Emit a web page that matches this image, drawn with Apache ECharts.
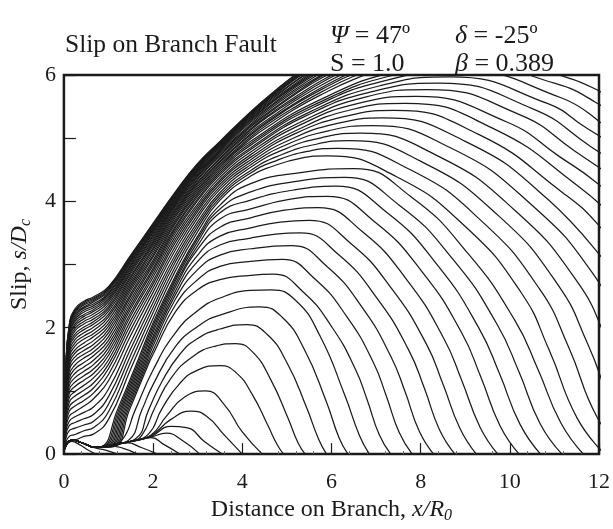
<!DOCTYPE html>
<html>
<head>
<meta charset="utf-8">
<script src="https://cdn.jsdelivr.net/npm/echarts@6/dist/echarts.min.js"></script>
<style>
html,body{margin:0;padding:0;background:#fff;}
#c{width:613px;height:529px;}
</style>
</head>
<body>
<div id="c"></div>
<script>
// ---- tick labels ----
const X_TICKS = [0, 2, 4, 6, 8, 10, 12];
const Y_TICKS = [0, 2, 4, 6];

// ---- early slip profiles (front inside the plot), [x, s] pairs ----
const EARLY_CURVES = [
  [[0,0],[0.05,0.13],[0.18,0.2],[0.35,0.15],[0.55,0.06],[0.72,0]],
  [[0,0],[0.06,0.16],[0.2,0.22],[0.4,0.18],[0.7,0.1],[0.95,0.06],[1.2,0]],
  [[0,0],[0.06,0.16],[0.2,0.22],[0.4,0.18],[0.7,0.11],[1.0,0.13],[1.3,0.1],[1.65,0]],
  [[0,0],[0.06,0.16],[0.2,0.22],[0.4,0.18],[0.7,0.11],[1.0,0.14],[1.4,0.18],[1.75,0.1],[2.1,0]],
  [[0,0],[0.06,0.16],[0.2,0.22],[0.4,0.18],[0.7,0.11],[1.0,0.14],[1.5,0.2],[1.95,0.26],[2.25,0.15],[2.6,0]],
  [[0,0],[0.06,0.16],[0.2,0.22],[0.4,0.18],[0.7,0.11],[1.0,0.14],[1.5,0.2],[1.95,0.27],[2.3,0.33],[2.65,0.22],[3.05,0]],
  [[0,0],[0.06,0.16],[0.2,0.22],[0.4,0.18],[0.7,0.11],[1.0,0.14],[1.5,0.2],[1.95,0.28],[2.4,0.44],[2.75,0.42],[3.15,0.2],[3.55,0]],
  [[0,0],[0.06,0.16],[0.2,0.22],[0.4,0.18],[0.7,0.11],[1.0,0.14],[1.5,0.2],[1.95,0.29],[2.4,0.55],[2.85,0.68],[3.2,0.6],[3.6,0.3],[4.0,0]],
  [[0,0],[0.06,0.16],[0.2,0.22],[0.4,0.18],[0.7,0.11],[1.0,0.14],[1.5,0.2],[1.95,0.3],[2.3,0.6],[2.7,0.9],[3.18,1.0],[3.6,0.78],[4.0,0.35],[4.45,0]],
  [[0,0],[0.06,0.16],[0.2,0.22],[0.4,0.18],[0.7,0.11],[1.0,0.14],[1.5,0.2],[1.9,0.32],[2.2,0.72],[2.6,1.12],[3.0,1.33],[3.5,1.4],[3.86,1.29],[4.22,0.95],[4.57,0.46],[4.79,0.14],[4.93,0]],
  [[0,0],[0.06,0.16],[0.2,0.22],[0.4,0.18],[0.7,0.11],[1.0,0.14],[1.5,0.2],[1.75,0.3],[2.05,0.75],[2.4,1.2],[2.9,1.55],[3.4,1.71],[3.85,1.75],[4.24,1.61],[4.63,1.19],[5.02,0.58],[5.25,0.18],[5.41,0]],
  [[0,0],[0.06,0.16],[0.2,0.22],[0.4,0.18],[0.7,0.11],[1.0,0.14],[1.6,0.24],[1.9,0.7],[2.2,1.15],[2.6,1.58],[3.0,1.83],[3.5,1.98],[4.1,2.05],[4.55,1.9],[5.0,1.45],[5.44,0.74],[5.71,0.24],[5.89,0]],
  [[0,0],[0.06,0.16],[0.2,0.22],[0.4,0.18],[0.7,0.11],[1.0,0.14],[1.45,0.22],[1.75,0.7],[2.0,1.1],[2.5,1.7],[3.0,2.02],[3.5,2.2],[4.4,2.33],[4.89,2.17],[5.39,1.66],[5.88,0.84],[6.17,0.26],[6.37,0]],
  [[0,0],[0.06,0.16],[0.2,0.22],[0.4,0.18],[0.7,0.11],[1.0,0.14],[1.3,0.22],[1.6,0.7],[2.0,1.33],[2.5,1.92],[3.0,2.27],[3.5,2.47],[4.19,2.59],[4.65,2.6],[5.2,2.43],[5.75,1.86],[6.3,0.93],[6.63,0.29],[6.85,0]],
  [[0,0],[0.06,0.16],[0.2,0.22],[0.4,0.18],[0.7,0.11],[1.12,0.12],[1.47,0.7],[1.87,1.38],[2.0,1.58],[2.5,2.25],[3.0,2.6],[3.5,2.76],[4.19,2.83],[4.7,2.85],[5.36,2.57],[6.02,2.0],[6.54,1.34],[6.8,0.86],[7.07,0.31],[7.33,0]],
  [[0,0],[0.06,0.16],[0.2,0.22],[0.4,0.18],[0.7,0.11],[1.09,0.12],[1.44,0.7],[1.84,1.38],[2.0,1.64],[2.5,2.36],[3.0,2.76],[3.5,2.97],[4.19,3.05],[4.9,3.08],[5.63,2.77],[6.36,2.16],[6.94,1.45],[7.23,0.92],[7.52,0.34],[7.81,0]],
  [[0,0],[0.06,0.16],[0.2,0.22],[0.4,0.18],[0.7,0.11],[1.06,0.12],[1.41,0.7],[1.81,1.38],[2.0,1.71],[2.5,2.45],[3.0,2.92],[3.5,3.15],[4.19,3.25],[5.1,3.3],[5.9,2.97],[6.7,2.31],[7.33,1.55],[7.65,0.99],[7.97,0.36],[8.29,0]],
  [[0,0],[0.06,0.16],[0.2,0.22],[0.4,0.18],[0.7,0.11],[1.03,0.12],[1.38,0.7],[1.78,1.38],[2.0,1.77],[2.5,2.52],[3.0,3.05],[3.5,3.31],[4.19,3.42],[4.75,3.48],[5.3,3.5],[6.17,3.15],[7.04,2.45],[7.73,1.65],[8.08,1.05],[8.42,0.39],[8.77,0]],
  [[0,0],[0.06,0.16],[0.2,0.22],[0.4,0.18],[0.7,0.11],[1.0,0.12],[1.35,0.7],[1.75,1.38],[2.0,1.82],[2.5,2.58],[3.0,3.15],[3.5,3.45],[4.19,3.58],[4.85,3.67],[5.5,3.7],[6.44,3.33],[7.38,2.59],[8.13,1.74],[8.5,1.11],[8.88,0.41],[9.25,0]],
  [[0,0],[0.06,0.16],[0.2,0.22],[0.4,0.18],[0.7,0.11],[0.97,0.12],[1.32,0.7],[1.72,1.38],[2.0,1.87],[2.5,2.64],[3.0,3.24],[3.5,3.59],[4.19,3.74],[4.95,3.86],[5.7,3.9],[6.71,3.51],[7.72,2.73],[8.52,1.83],[8.92,1.17],[9.33,0.43],[9.73,0]],
  [[0,0],[0.06,0.16],[0.2,0.22],[0.4,0.18],[0.7,0.11],[0.94,0.12],[1.29,0.7],[1.69,1.38],[2.0,1.93],[2.5,2.69],[3.0,3.3],[3.5,3.72],[4.19,3.88],[5.05,4.03],[5.9,4.08],[6.98,3.67],[8.06,2.86],[8.92,1.92],[9.35,1.22],[9.78,0.45],[10.21,0]],
  [[0,0],[0.06,0.16],[0.2,0.22],[0.4,0.18],[0.7,0.11],[0.91,0.12],[1.26,0.7],[1.66,1.38],[2.0,1.98],[2.5,2.74],[3.0,3.36],[3.5,3.82],[4.19,4.02],[5.15,4.18],[6.1,4.24],[7.25,3.82],[8.4,2.97],[9.31,1.99],[9.77,1.27],[10.23,0.47],[10.69,0]],
  [[0,0],[0.06,0.16],[0.2,0.22],[0.4,0.18],[0.7,0.11],[0.88,0.12],[1.23,0.7],[1.63,1.38],[2.0,2.03],[2.5,2.78],[3.0,3.41],[3.5,3.88],[4.19,4.15],[5.25,4.32],[6.3,4.38],[7.52,3.94],[8.74,3.07],[9.71,2.06],[10.2,1.31],[10.68,0.48],[11.17,0]],
  [[0,0],[0.06,0.16],[0.2,0.22],[0.4,0.18],[0.7,0.11],[0.85,0.12],[1.2,0.7],[1.6,1.38],[2.0,2.08],[2.5,2.82],[3.0,3.45],[3.5,3.94],[4.19,4.28],[5.35,4.46],[6.5,4.52],[7.79,4.07],[9.08,3.16],[10.11,2.12],[10.62,1.36],[11.14,0.5],[11.65,0]]
];

// ---- late slip profiles: left part on shared x positions ----
const LATE_X = [0, 0.04, 0.12, 0.25, 0.45, 0.67, 1.0, 1.5, 2.0, 2.5, 3.0, 3.5, 4.19];
const LATE_LEFT = [
  [0,.12,.20,.22,.28,.32,.55,1.35,2.15,2.90,3.52,4.02,4.40],
  [0,.17,.28,.31,.37,.42,.67,1.46,2.24,2.97,3.58,4.06,4.45],
  [0,.23,.37,.41,.46,.52,.79,1.57,2.32,3.04,3.63,4.10,4.49],
  [0,.28,.45,.50,.56,.63,.91,1.67,2.40,3.10,3.68,4.14,4.54],
  [0,.33,.52,.59,.66,.75,1.03,1.77,2.48,3.16,3.74,4.19,4.58],
  [0,.38,.60,.67,.76,.88,1.16,1.88,2.56,3.23,3.79,4.23,4.62],
  [0,.42,.68,.76,.85,.97,1.26,1.97,2.63,3.29,3.84,4.27,4.66],
  [0,.47,.75,.84,.93,1.05,1.35,2.05,2.69,3.35,3.88,4.31,4.70],
  [0,.51,.82,.92,1.01,1.13,1.42,2.12,2.74,3.40,3.92,4.34,4.74],
  [0,.56,.89,.99,1.09,1.21,1.49,2.19,2.80,3.45,3.96,4.38,4.78],
  [0,.60,.96,1.07,1.17,1.28,1.56,2.24,2.85,3.50,4.01,4.42,4.82],
  [0,.64,1.02,1.14,1.24,1.35,1.62,2.30,2.90,3.54,4.04,4.45,4.85],
  [0,.68,1.08,1.21,1.31,1.42,1.68,2.35,2.94,3.58,4.08,4.48,4.89],
  [0,.72,1.14,1.28,1.38,1.49,1.74,2.40,2.99,3.61,4.11,4.51,4.92],
  [0,.76,1.20,1.35,1.45,1.56,1.80,2.45,3.03,3.65,4.14,4.54,4.95],
  [0,.80,1.26,1.41,1.52,1.62,1.86,2.50,3.07,3.68,4.17,4.57,4.99],
  [0,.83,1.32,1.48,1.58,1.68,1.92,2.54,3.12,3.71,4.20,4.59,5.02],
  [0,.87,1.37,1.54,1.64,1.74,1.97,2.59,3.15,3.75,4.23,4.62,5.05],
  [0,.90,1.42,1.60,1.70,1.80,2.02,2.63,3.19,3.78,4.26,4.64,5.07],
  [0,.93,1.47,1.65,1.76,1.86,2.07,2.67,3.23,3.81,4.29,4.67,5.10],
  [0,.96,1.52,1.71,1.82,1.91,2.12,2.71,3.26,3.84,4.31,4.69,5.13],
  [0,.99,1.57,1.76,1.87,1.96,2.17,2.75,3.30,3.86,4.34,4.72,5.15],
  [0,1.02,1.61,1.81,1.92,2.01,2.21,2.79,3.33,3.89,4.36,4.74,5.18],
  [0,1.05,1.66,1.86,1.97,2.06,2.26,2.82,3.36,3.92,4.39,4.76,5.20],
  [0,1.07,1.70,1.90,2.01,2.10,2.30,2.86,3.39,3.94,4.41,4.78,5.22],
  [0,1.10,1.73,1.95,2.06,2.14,2.33,2.89,3.42,3.96,4.43,4.80,5.25],
  [0,1.12,1.77,1.99,2.10,2.18,2.37,2.92,3.45,3.98,4.45,4.81,5.27],
  [0,1.14,1.81,2.03,2.14,2.22,2.41,2.95,3.47,4.00,4.47,4.83,5.29],
  [0,1.17,1.84,2.06,2.18,2.26,2.44,2.98,3.50,4.02,4.49,4.85,5.30],
  [0,1.19,1.87,2.10,2.21,2.29,2.47,3.00,3.52,4.04,4.50,4.86,5.32],
  [0,1.20,1.90,2.13,2.25,2.32,2.50,3.03,3.54,4.06,4.52,4.88,5.34],
  [0,1.22,1.93,2.16,2.28,2.35,2.53,3.05,3.56,4.08,4.53,4.89,5.35],
  [0,1.24,1.95,2.19,2.31,2.38,2.55,3.07,3.58,4.09,4.55,4.90,5.37],
  [0,1.25,1.98,2.22,2.33,2.41,2.58,3.09,3.60,4.11,4.56,4.91,5.38],
  [0,1.27,2.00,2.24,2.36,2.43,2.60,3.11,3.61,4.12,4.57,4.92,5.39],
  [0,1.28,2.02,2.26,2.38,2.45,2.62,3.12,3.63,4.13,4.58,4.93,5.40],
  [0,1.29,2.03,2.28,2.40,2.47,2.63,3.14,3.64,4.14,4.59,4.94,5.41],
  [0,1.30,2.05,2.30,2.42,2.49,2.65,3.15,3.65,4.15,4.60,4.95,5.42]
];
// ---- late slip profiles: right part, [x, s] pairs ----
const LATE_RIGHT = [
  [[4.7,4.56],[5.3,4.68],[5.9,4.72],[7.46,4.39],[9.02,3.59],[10.26,2.55],[10.88,1.65],[11.51,0.57],[12.13,0]],
  [[4.78,4.65],[5.46,4.79],[6.15,4.84],[7.77,4.50],[9.38,3.68],[10.67,2.61],[11.32,1.69],[11.96,0.58],[12.61,0]],
  [[4.85,4.73],[5.63,4.9],[6.4,4.96],[8.07,4.61],[9.75,3.77],[11.08,2.68],[11.75,1.74],[12.42,0.6],[13.09,0]],
  [[4.93,4.82],[5.79,5.01],[6.65,5.08],[8.38,4.72],[10.11,3.86],[11.5,2.74],[12.19,1.78],[12.88,0.61]],
  [[5.0,4.9],[5.95,5.12],[6.9,5.2],[8.69,4.84],[10.48,3.95],[11.91,2.81],[12.62,1.82]],
  [[5.08,4.98],[6.11,5.23],[7.15,5.32],[9.0,4.95],[10.84,4.04],[12.32,2.87]],
  [[5.15,5.06],[6.28,5.34],[7.4,5.44],[9.3,5.06],[11.2,4.13],[11.97,3.64],[12.73,2.94]],
  [[5.23,5.13],[6.44,5.45],[7.65,5.55],[9.61,5.16],[11.57,4.22],[12.35,3.72]],
  [[5.3,5.21],[6.6,5.55],[7.9,5.66],[9.92,5.26],[11.13,4.7],[11.94,4.3],[12.74,3.79]],
  [[5.38,5.28],[6.76,5.65],[8.15,5.77],[10.23,5.37],[11.47,4.79],[12.3,4.39]],
  [[5.45,5.36],[6.93,5.74],[8.4,5.87],[10.53,5.46],[11.81,4.87],[12.67,4.46]],
  [[5.53,5.42],[7.09,5.83],[8.65,5.97],[10.84,5.55],[11.72,5.16],[12.6,4.78]],
  [[5.6,5.49],[7.25,5.92],[8.9,6.06],[11.15,5.64],[12.04,5.24]],
  [[5.68,5.55],[7.41,6.0],[9.15,6.15],[11.0,5.87],[11.92,5.57],[12.84,5.1]],
  [[5.75,5.61],[7.58,6.08],[9.4,6.24],[11.29,5.96],[12.24,5.65]],
  [[4.7,5.24],[5.2,5.47],[5.8,5.70],[6.5,5.93],[7.3,6.14]],
  [[4.7,5.28],[5.2,5.50],[5.8,5.74],[6.5,5.98],[7.3,6.19]],
  [[4.7,5.31],[5.2,5.54],[5.8,5.78],[6.5,6.02],[7.3,6.22]],
  [[4.7,5.33],[5.2,5.56],[5.8,5.81],[6.5,6.06]],
  [[4.7,5.36],[5.2,5.60],[5.8,5.85],[6.5,6.10]],
  [[4.7,5.40],[5.2,5.63],[5.8,5.89],[6.5,6.14]],
  [[4.7,5.42],[5.2,5.66],[5.8,5.92],[6.5,6.17]],
  [[4.7,5.45],[5.2,5.70],[5.8,5.96],[6.5,6.20]],
  [[4.7,5.47],[5.2,5.72],[5.8,5.99],[6.5,6.23]],
  [[4.7,5.50],[5.2,5.75],[5.8,6.01],[6.5,6.26]],
  [[4.7,5.53],[5.2,5.78],[5.8,6.05]],
  [[4.7,5.55],[5.2,5.81],[5.8,6.08]],
  [[4.7,5.58],[5.2,5.83],[5.8,6.11]],
  [[4.7,5.59],[5.2,5.85],[5.8,6.13]],
  [[4.7,5.61],[5.2,5.87],[5.8,6.16]],
  [[4.7,5.63],[5.2,5.90],[5.8,6.18]],
  [[4.7,5.65],[5.2,5.91],[5.8,6.20]],
  [[4.7,5.67],[5.2,5.94],[5.8,6.22]],
  [[4.7,5.68],[5.2,5.95],[5.8,6.24]],
  [[4.7,5.69],[5.2,5.97],[5.8,6.25]],
  [[4.7,5.71],[5.2,5.98],[5.8,6.27]],
  [[4.7,5.72],[5.2,6.00],[5.8,6.28]],
  [[4.7,5.73],[5.2,6.01],[5.8,6.30]]
];

const FONT = '"Liberation Serif","Times New Roman",serif';
const INK = '#1b1b1b';

const curves = EARLY_CURVES.slice();
LATE_LEFT.forEach((ys, i) => {
  const pts = LATE_X.map((x, k) => [x, ys[k]]);
  curves.push(pts.concat(LATE_RIGHT[i]));
});

const series = curves.map((pts) => ({
  type: 'line',
  data: pts,
  showSymbol: false,
  symbol: 'none',
  smooth: 0.5,
  clip: true,
  silent: true,
  lineStyle: { color: INK, width: 1.25 },
  z: 2
}));

const italicRich = { i: { fontFamily: FONT, fontStyle: 'italic', fontSize: 26, color: INK } };

const chart = echarts.init(document.getElementById('c'), null, { renderer: 'canvas' });
chart.setOption({
  animation: false,
  backgroundColor: '#ffffff',
  title: [
    { text: 'Slip on Branch Fault', left: 60, top: 27,
      textStyle: { fontFamily: FONT, fontSize: 25.5, fontWeight: 'normal', color: INK } },
    { text: '{i|Ψ} = 47º', left: 325, top: 18,
      textStyle: { fontFamily: FONT, fontSize: 26, fontWeight: 'normal', color: INK, rich: italicRich } },
    { text: '{i|δ} = -25º', left: 450, top: 18,
      textStyle: { fontFamily: FONT, fontSize: 26, fontWeight: 'normal', color: INK, rich: italicRich } },
    { text: 'S = 1.0', left: 325, top: 46,
      textStyle: { fontFamily: FONT, fontSize: 26, fontWeight: 'normal', color: INK } },
    { text: '{i|β} = 0.389', left: 450, top: 46,
      textStyle: { fontFamily: FONT, fontSize: 26, fontWeight: 'normal', color: INK, rich: italicRich } }
  ],
  grid: { left: 63, right: 14, top: 75, bottom: 66, show: true,
    borderColor: INK, borderWidth: 2.5, backgroundColor: 'transparent' },
  xAxis: {
    type: 'value', min: 0, max: 12, interval: 2,
    name: 'Distance on Branch, {i|x/R}{s|0}',
    nameLocation: 'middle', nameGap: 31,
    nameTextStyle: { fontFamily: FONT, fontSize: 24, color: INK,
      rich: { i: { fontFamily: FONT, fontStyle: 'italic', fontSize: 24, color: INK },
              s: { fontFamily: FONT, fontStyle: 'italic', fontSize: 16, color: INK, verticalAlign: 'bottom', padding: [12, 0, 0, 0] } } },
    axisLine: { show: false },
    axisTick: { show: true, inside: true, length: 11, lineStyle: { color: INK, width: 1.2 } },
    minorTick: { show: true, splitNumber: 5, length: 3, lineStyle: { color: '#666', width: 1 } },
    splitLine: { show: false },
    axisLabel: { fontFamily: FONT, fontSize: 22, color: INK, margin: 17,
      formatter: (v) => X_TICKS.indexOf(v) >= 0 ? String(v) : '' }
  },
  yAxis: {
    type: 'value', min: 0, max: 6, interval: 1,
    name: 'Slip, {i|s/D}{s|c}',
    nameLocation: 'middle', nameGap: 28, nameRotate: 90,
    nameTextStyle: { fontFamily: FONT, fontSize: 24, color: INK,
      rich: { i: { fontFamily: FONT, fontStyle: 'italic', fontSize: 24, color: INK },
              s: { fontFamily: FONT, fontStyle: 'italic', fontSize: 16, color: INK, verticalAlign: 'bottom', padding: [12, 0, 0, 0] } } },
    axisLine: { show: false },
    axisTick: { show: true, inside: true, length: 12, lineStyle: { color: INK, width: 1.2 } },
    splitLine: { show: false },
    axisLabel: { fontFamily: FONT, fontSize: 22, color: INK, margin: 8,
      formatter: (v) => Y_TICKS.indexOf(v) >= 0 ? String(v) : '' }
  },
  series: series
});
</script>
</body>
</html>
